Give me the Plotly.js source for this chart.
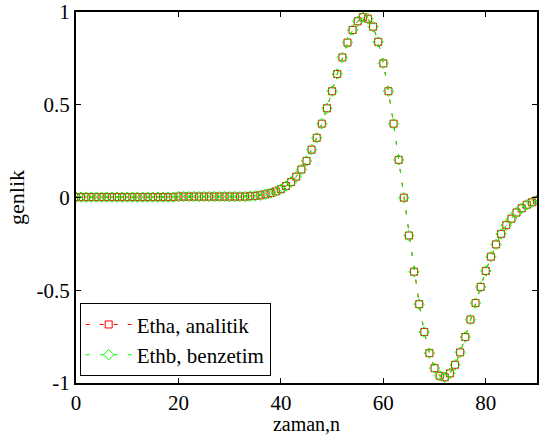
<!DOCTYPE html>
<html>
<head>
<meta charset="utf-8">
<script src="https://cdn.plot.ly/plotly-3.0.1.min.js"></script>
<style>html,body{margin:0;padding:0;background:#fff;}#plot{width:545px;height:435px;}</style>
</head>
<body>
<div id="plot"></div>
<script>
const n = [0,1,2,3,4,5,6,7,8,9,10,11,12,13,14,15,16,17,18,19,20,21,22,23,24,25,26,27,28,29,30,31,32,33,34,35,36,37,38,39,40,41,42,43,44,45,46,47,48,49,50,51,52,53,54,55,56,57,58,59,60,61,62,63,64,65,66,67,68,69,70,71,72,73,74,75,76,77,78,79,80,81,82,83,84,85,86,87,88,89,90];
const etha = [0.002,0.002,0.002,0.002,0.002,0.002,0.002,0.002,0.002,0.002,0.002,0.002,0.002,0.002,0.002,0.002,0.002,0.002,0.002,0.002,
  0.005,0.005,0.005,0.005,0.005,0.005,0.005,0.005,0.005,0.005,0.005,0.005,0.005,0.005,0.007,0.009,0.012,0.017,0.024,0.033,
  0.045,0.062,0.083,0.112,0.151,0.197,0.258,0.322,0.398,0.481,0.573,0.666,0.755,0.835,0.903,0.950,0.972,0.964,0.921,0.839,
  0.723,0.573,0.398,0.203,-0.001,-0.205,-0.400,-0.575,-0.725,-0.839,-0.920,-0.961,-0.969,-0.948,-0.902,-0.835,-0.752,-0.658,-0.569,-0.482,
  -0.396,-0.319,-0.253,-0.196,-0.149,-0.114,-0.081,-0.058,-0.039,-0.026,-0.015];
const ethb = [0.002,0.002,0.002,0.002,0.002,0.002,0.002,0.002,0.002,0.002,0.002,0.002,0.002,0.002,0.002,0.002,0.002,0.002,0.002,0.002,
  0.005,0.005,0.005,0.005,0.005,0.005,0.005,0.005,0.005,0.005,0.005,0.005,0.005,0.005,0.007,0.009,0.012,0.017,0.024,0.033,
  0.045,0.062,0.083,0.112,0.151,0.197,0.258,0.322,0.398,0.481,0.573,0.666,0.755,0.835,0.903,0.950,0.972,0.964,0.921,0.839,
  0.723,0.573,0.398,0.203,-0.001,-0.205,-0.400,-0.575,-0.725,-0.839,-0.920,-0.961,-0.969,-0.948,-0.902,-0.835,-0.752,-0.658,-0.569,-0.482,
  -0.396,-0.319,-0.253,-0.196,-0.149,-0.114,-0.081,-0.058,-0.039,-0.026,-0.015];
const seriesNames = ['Etha, analitik', 'Ethb, benzetim'];
const xTicks = [0,20,40,60,80];
const yTicks = [-1,-0.5,0,0.5,1];
const yTickText = ['-1','-0.5','0','0.5','1'];

const fam = 'Liberation Serif, Times New Roman, serif';
const font = {family: fam, size: 21, color: '#000'};

const traces = [
  {x: n, y: etha, name: seriesNames[0], type: 'scatter', mode: 'lines+markers',
   line: {color: '#ff0000', width: 1, dash: '4px,10px'},
   marker: {symbol: 'square-open', size: 7, color: '#ff0000', line: {width: 1}}},
  {x: n, y: ethb, name: seriesNames[1], type: 'scatter', mode: 'lines+markers',
   line: {color: '#00ff00', width: 1, dash: '4px,10px'},
   marker: {symbol: 'diamond-open', size: 8, color: '#00ff00', line: {width: 1}}}
];

const axisCommon = {
  showgrid: false, zeroline: false, showline: true, linecolor: '#000', linewidth: 2,
  mirror: 'ticks', ticks: 'inside', ticklen: 5, tickcolor: '#000', tickwidth: 1,
  tickfont: font, ticklabeloverflow: 'allow'
};

const layout = {
  width: 545, height: 435,
  margin: {l: 76, r: 8, t: 12, b: 52},
  paper_bgcolor: '#fff', plot_bgcolor: '#fff',
  font: font,
  showlegend: true,
  legend: {x: 0.008, y: 0.018, xanchor: 'left', yanchor: 'bottom', bgcolor: '#fff',
           bordercolor: '#000', borderwidth: 1, font: {family: fam, size: 21, color: '#000'},
           itemwidth: 46, tracegroupgap: 0},
  xaxis: Object.assign({}, axisCommon, {range: [0, 90], tickvals: xTicks,
    title: {text: 'zaman,n', font: {family: fam, size: 20, color: '#000'}, standoff: 3}}),
  yaxis: Object.assign({}, axisCommon, {range: [-1, 1], tickvals: yTicks, ticktext: yTickText,
    title: {text: 'genlik', font: {family: fam, size: 22, color: '#000'}, standoff: 6}})
};

Plotly.newPlot('plot', traces, layout, {displayModeBar: false, staticPlot: true});
</script>
</body>
</html>
